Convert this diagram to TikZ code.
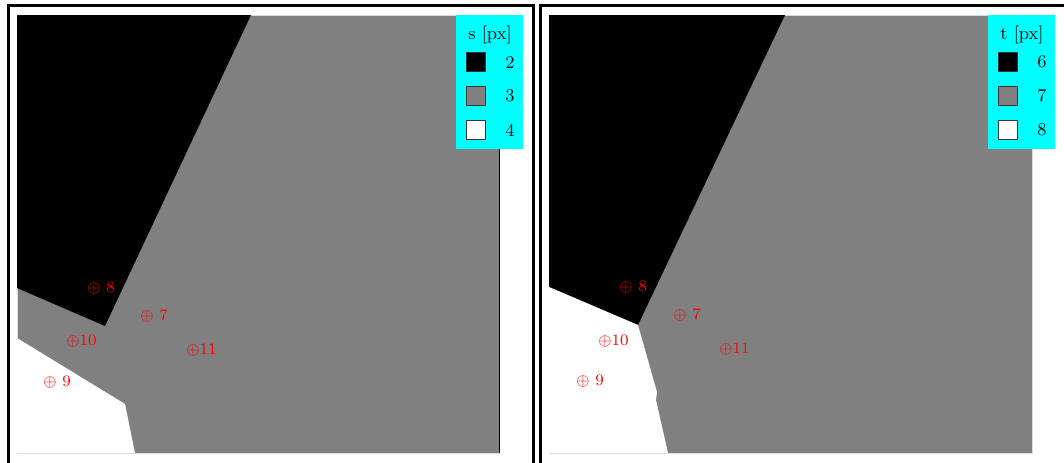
\documentclass[tikz,border=0pt]{standalone}
\usepackage{amsmath,amssymb}
\usepackage{xcolor}
\usepackage{tikz}
\usetikzlibrary{positioning}

\definecolor{legcyan}{RGB}{0,255,255}

\begin{document}
\begin{tikzpicture}[x=0.5pt, y=-0.5pt,
    frame/.style={draw=black, line width=1.5pt},
    mapbox/.style={fill=black!50, draw=gray!30, line width=0.4pt},
    legbox/.style={fill=legcyan, draw=none},
    legsq/.style={rectangle, draw=black!80, fill=#1, minimum size=9.5pt, inner sep=0pt},
    legsq/.default={black!50},
    legtxt/.style={font=\small, inner sep=0pt},
    pt/.style={font=\footnotesize, text=red, anchor=west, inner sep=0pt},
  ]
    \useasboundingbox (0,0) rectangle (1064,462);

    % left panel: s
    \draw[frame] (8,5) rectangle (533,475);
    \draw[mapbox] (17,15) rectangle (499,453);
    \fill[black] (17,15) -- (251,15) -- (105,326) -- (17,288) -- cycle;
    \fill[white] (17,338) -- (125,404) -- (135,453) -- (17,453) -- cycle;
    \draw[black, line width=0.5pt] (499,15) -- (499,453);

    \node[pt] (sp8) at (87,288) {$\oplus$ 8};
    \node[pt] (sp7) at (140,316) {$\oplus$ 7};
    \node[pt] (sp10) at (66,341) {$\oplus$10};
    \node[pt] (sp9) at (43,382) {$\oplus$ 9};
    \node[pt] (sp11) at (186,350) {$\oplus$11};

    % legend s
    \fill[legbox] (456,15) rectangle (523,149);
    \node[legtxt] (stitle) at (490,35) {s [px]};
    \node[legsq=black] (sq2) at (476,62) {};
    \node[legtxt] (sv2) at (510,62) {2};
    \node[legsq] (sq3) at (476,96) {};
    \node[legtxt] (sv3) at (510,96) {3};
    \node[legsq=white] (sq4) at (476,130) {};
    \node[legtxt] (sv4) at (510,130) {4};

    % right panel: t
    \draw[frame] (540,5) rectangle (1075,475);
    \draw[mapbox] (549,15) rectangle (1032,453);
    \fill[black] (549,15) -- (785,15) -- (638,325) -- (549,287) -- cycle;
    \fill[white] (549,287) -- (638,325) -- (657,392) -- (656,400) -- (668,453) -- (549,453) -- cycle;

    \node[pt] (tp8) at (619,287) {$\oplus$ 8};
    \node[pt] (tp7) at (673,315) {$\oplus$ 7};
    \node[pt] (tp10) at (598,341) {$\oplus$10};
    \node[pt] (tp9) at (576,381) {$\oplus$ 9};
    \node[pt] (tp11) at (719,349) {$\oplus$11};

    % legend t
    \fill[legbox] (988,15) rectangle (1055,149);
    \node[legtxt] (ttitle) at (1022,35) {t [px]};
    \node[legsq=black] (sq6) at (1008,62) {};
    \node[legtxt] (tv6) at (1042,62) {6};
    \node[legsq] (sq7) at (1008,96) {};
    \node[legtxt] (tv7) at (1042,96) {7};
    \node[legsq=white] (sq8) at (1008,130) {};
    \node[legtxt] (tv8) at (1042,130) {8};
\end{tikzpicture}
\end{document}
